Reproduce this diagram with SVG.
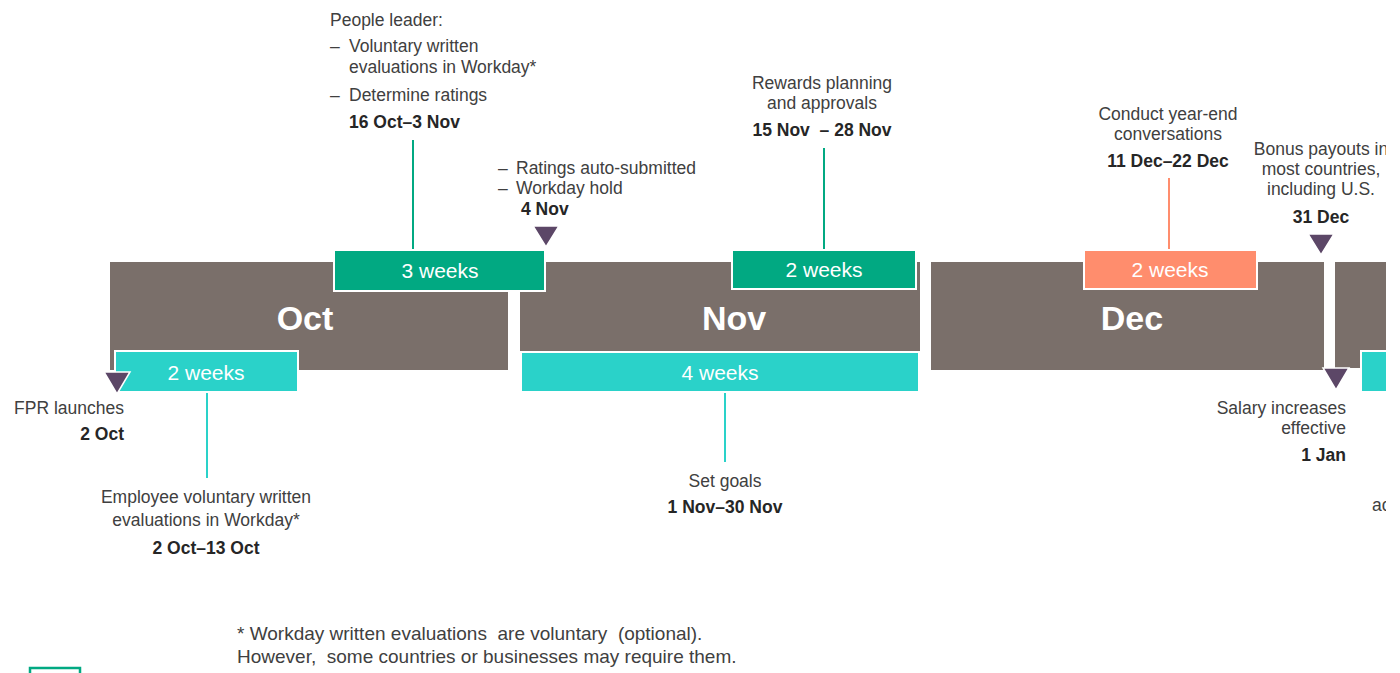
<svg xmlns="http://www.w3.org/2000/svg" width="1400" height="673" viewBox="0 0 1400 673">
<style>
.month{fill:#7a6f6a}
.mlabel{font-family:"Liberation Sans",Arial,sans-serif;font-weight:bold;font-size:34px;fill:#ffffff;text-anchor:middle}
.wk{font-family:"Liberation Sans",Arial,sans-serif;font-size:21px;fill:#ffffff;text-anchor:middle}
.green{fill:#01a982;stroke:#ffffff;stroke-width:2}
.cyan{fill:#2ad2c9;stroke:#ffffff;stroke-width:2}
.orange{fill:#ff8d6d;stroke:#ffffff;stroke-width:2}
.tri{fill:#5c4767;stroke:#ffffff;stroke-width:1.5}
.t{font-family:"Liberation Sans",Arial,sans-serif;font-size:17.5px;fill:#404040}
.b{font-family:"Liberation Sans",Arial,sans-serif;font-size:17.5px;font-weight:bold;fill:#262626}
.f{font-family:"Liberation Sans",Arial,sans-serif;font-size:19px;fill:#404040}
.c{text-anchor:middle}
.r{text-anchor:end}
.ln{stroke-width:2;fill:none}
</style>
<rect width="1400" height="673" fill="#ffffff"/>

<g id="connectors">
  <line class="ln" x1="413" y1="140" x2="413" y2="250" stroke="#01a982"/>
  <line class="ln" x1="207" y1="393" x2="207" y2="478" stroke="#2ad2c9"/>
  <line class="ln" x1="824" y1="148" x2="824" y2="250" stroke="#01a982"/>
  <line class="ln" x1="725" y1="393" x2="725" y2="462" stroke="#2ad2c9"/>
  <line class="ln" x1="1169" y1="178" x2="1169" y2="250" stroke="#ff8d6d"/>
</g>

<g id="month-oct">
  <rect class="month" x="110" y="262" width="398" height="108"/>
  <text class="mlabel" x="305" y="330">Oct</text>
</g>
<g id="month-nov">
  <rect class="month" x="520" y="262" width="400" height="89"/>
  <text class="mlabel" x="734" y="330">Nov</text>
</g>
<g id="month-dec">
  <rect class="month" x="931" y="262" width="393" height="108"/>
  <text class="mlabel" x="1132" y="330">Dec</text>
</g>
<g id="month-jan">
  <rect class="month" x="1335" y="262" width="51" height="106"/>
  <rect class="cyan" x="1361" y="351" width="27" height="41"/>
</g>

<g id="bar-oct-3weeks">
  <rect class="green" x="334" y="250" width="211" height="41"/>
  <text class="wk" x="440" y="278">3 weeks</text>
</g>
<g id="bar-oct-2weeks">
  <rect class="cyan" x="115" y="351" width="183" height="41"/>
  <text class="wk" x="206" y="380">2 weeks</text>
</g>
<g id="bar-nov-2weeks">
  <rect class="green" x="732" y="250" width="184" height="39"/>
  <text class="wk" x="824" y="277">2 weeks</text>
</g>
<g id="bar-nov-4weeks">
  <rect class="cyan" x="521" y="352" width="398" height="40"/>
  <text class="wk" x="720" y="380">4 weeks</text>
</g>
<g id="bar-dec-2weeks">
  <rect class="orange" x="1084" y="250" width="173" height="39"/>
  <text class="wk" x="1170" y="277">2 weeks</text>
</g>

<g id="people-leader">
  <text class="t" x="330" y="26">People leader:</text>
  <text class="t" x="330" y="52">–</text>
  <text class="t" x="349" y="52">Voluntary written</text>
  <text class="t" x="349" y="73">evaluations in Workday*</text>
  <text class="t" x="330" y="101">–</text>
  <text class="t" x="349" y="101">Determine ratings</text>
  <text class="b" x="349" y="128">16 Oct–3 Nov</text>
</g>

<g id="ratings-4nov">
  <text class="t" x="498" y="174">–</text>
  <text class="t" x="516" y="174">Ratings auto-submitted</text>
  <text class="t" x="498" y="194">–</text>
  <text class="t" x="516" y="194">Workday hold</text>
  <text class="b" x="521" y="215">4 Nov</text>
  <polygon class="tri" points="533,226 559,226 546,247"/>
</g>

<g id="fpr-launch">
  <polygon class="tri" points="104,372 130,372 117,394"/>
  <text class="t r" x="124" y="414">FPR launches</text>
  <text class="b r" x="124" y="440">2 Oct</text>
</g>

<g id="employee-eval">
  <text class="t c" x="206" y="503">Employee voluntary written</text>
  <text class="t c" x="206" y="526">evaluations in Workday*</text>
  <text class="b c" x="206" y="554">2 Oct–13 Oct</text>
</g>

<g id="rewards">
  <text class="t c" x="822" y="89">Rewards planning</text>
  <text class="t c" x="822" y="109">and approvals</text>
  <text class="b c" x="822" y="136" xml:space="preserve">15 Nov  – 28 Nov</text>
</g>

<g id="set-goals">
  <text class="t c" x="725" y="487">Set goals</text>
  <text class="b c" x="725" y="513">1 Nov–30 Nov</text>
</g>

<g id="year-end">
  <text class="t c" x="1168" y="120">Conduct year-end</text>
  <text class="t c" x="1168" y="140">conversations</text>
  <text class="b c" x="1168" y="167">11 Dec–22 Dec</text>
</g>

<g id="bonus">
  <text class="t c" x="1321" y="155">Bonus payouts in</text>
  <text class="t c" x="1321" y="175">most countries,</text>
  <text class="t c" x="1321" y="195">including U.S.</text>
  <text class="b c" x="1321" y="223">31 Dec</text>
  <polygon class="tri" points="1308,234 1334,234 1321,255"/>
</g>

<g id="salary">
  <polygon class="tri" points="1323,368 1349,368 1336,390"/>
  <text class="t r" x="1346" y="414">Salary increases</text>
  <text class="t r" x="1346" y="434">effective</text>
  <text class="b r" x="1346" y="461">1 Jan</text>
</g>

<g id="partial">
  <text class="t" x="1372" y="511">ac</text>
</g>

<rect x="1386" y="0" width="14" height="673" fill="#ffffff"/>

<g id="footnote">
  <text class="f" x="237" y="640" xml:space="preserve">* Workday written evaluations  are voluntary  (optional).</text>
  <text class="f" x="237" y="663" xml:space="preserve">However,  some countries or businesses may require them.</text>
  <rect x="30" y="668" width="50" height="20" fill="none" stroke="#01a982" stroke-width="2.5"/>
</g>
</svg>
